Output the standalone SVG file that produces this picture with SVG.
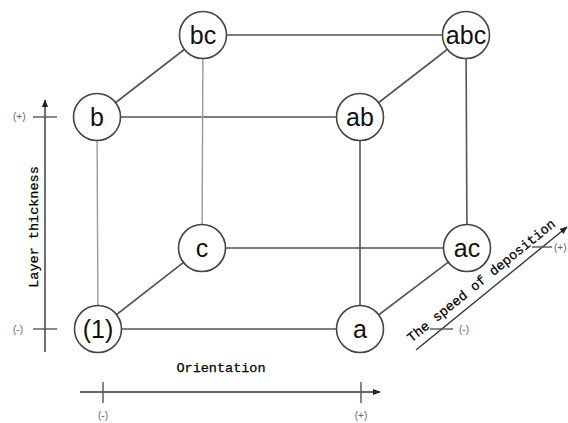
<svg xmlns="http://www.w3.org/2000/svg" width="568" height="423" viewBox="0 0 568 423">
<style>
.edge{stroke:#555;stroke-width:1.6;fill:none}
.light{stroke:#999;stroke-width:1.4;fill:none}
.axis{stroke:#333;stroke-width:1.4;fill:none}
.tick{stroke:#555;stroke-width:1.4}
.node circle{fill:#fff;stroke:#444;stroke-width:1.6}
.node text{font-family:"Liberation Sans",Arial,sans-serif;font-size:25px;fill:#111;text-anchor:middle;dominant-baseline:central}
.mono{font-family:"Liberation Mono","Courier New",monospace;font-size:13.5px;fill:#000;stroke:#000;stroke-width:0.25}
.sm{font-family:"Liberation Sans",Arial,sans-serif;font-size:10px;fill:#666;dominant-baseline:central}
</style>
<defs>
<marker id="arr" viewBox="0 0 10 10" refX="9" refY="5" markerWidth="8" markerHeight="8" markerUnits="userSpaceOnUse" orient="auto">
<path d="M0,1 L10,5 L0,9 z" fill="#222"/>
</marker>
</defs>
<g id="connectors">
<line class="edge" x1="203" y1="35" x2="466" y2="35"/>
<line class="edge" x1="97" y1="117" x2="360" y2="117"/>
<line class="edge" x1="202" y1="248" x2="467" y2="248"/>
<line class="edge" x1="98" y1="329" x2="360" y2="329"/>
<line class="light" x1="97" y1="117" x2="98" y2="329"/>
<line class="light" x1="203" y1="35" x2="202" y2="248"/>
<line class="edge" x1="360" y1="117" x2="360" y2="329"/>
<line class="edge" x1="466" y1="35" x2="467" y2="248"/>
<line class="edge" x1="97" y1="117" x2="203" y2="35"/>
<line class="edge" x1="360" y1="117" x2="466" y2="35"/>
<line class="edge" x1="98" y1="329" x2="202" y2="248"/>
<line class="edge" x1="360" y1="329" x2="467" y2="248"/>
</g>
<g id="axes">
<line class="axis" x1="45" y1="352" x2="45" y2="100" marker-end="url(#arr)"/>
<line class="tick" x1="33" y1="117" x2="57" y2="117"/>
<line class="tick" x1="33" y1="329" x2="57" y2="329"/>
<text class="sm" x="13" y="116">(+)</text>
<text class="sm" x="13" y="329">(-)</text>
<text class="mono" transform="translate(38,227) rotate(-90)" text-anchor="middle">Layer thickness</text>
<line class="axis" x1="80" y1="392" x2="380" y2="392" marker-end="url(#arr)"/>
<line class="tick" x1="103" y1="382" x2="103" y2="403"/>
<line class="tick" x1="361" y1="382" x2="361" y2="403"/>
<text class="sm" x="103" y="415" text-anchor="middle">(-)</text>
<text class="sm" x="361" y="415" text-anchor="middle">(+)</text>
<text class="mono" x="221" y="372" text-anchor="middle">Orientation</text>
<line class="axis" x1="416" y1="350" x2="567" y2="227" marker-end="url(#arr)"/>
<line class="tick" x1="430" y1="329" x2="453" y2="329"/>
<line class="tick" x1="532" y1="247" x2="552" y2="247"/>
<text class="sm" x="459" y="329">(-)</text>
<text class="sm" x="554" y="247">(+)</text>
<text class="mono" transform="translate(484,284) rotate(-39)" text-anchor="middle">The speed of deposition</text>
</g>
<g id="node-bc" class="node"><circle cx="203" cy="35" r="23.5"/><text x="203" y="35">bc</text></g>
<g id="node-abc" class="node"><circle cx="466" cy="35" r="23.5"/><text x="466" y="35">abc</text></g>
<g id="node-b" class="node"><circle cx="97" cy="117" r="23.5"/><text x="97" y="117">b</text></g>
<g id="node-ab" class="node"><circle cx="360" cy="117" r="23.5"/><text x="360" y="117">ab</text></g>
<g id="node-c" class="node"><circle cx="202" cy="248" r="23.5"/><text x="202" y="248">c</text></g>
<g id="node-ac" class="node"><circle cx="467" cy="248" r="23.5"/><text x="467" y="248">ac</text></g>
<g id="node-1" class="node"><circle cx="98" cy="329" r="23.5"/><text x="98" y="329">(1)</text></g>
<g id="node-a" class="node"><circle cx="360" cy="329" r="23.5"/><text x="360" y="329">a</text></g>
</svg>
